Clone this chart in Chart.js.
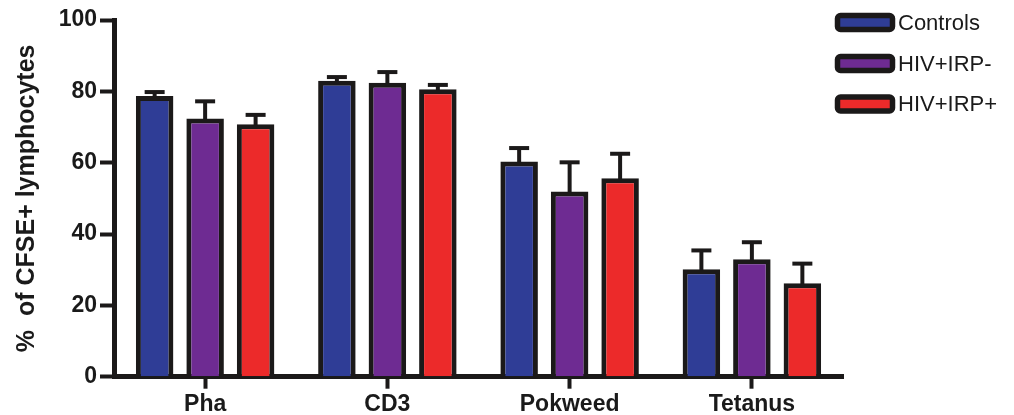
<!DOCTYPE html>
<html>
<head>
<meta charset="utf-8">
<script src="https://cdn.jsdelivr.net/npm/chart.js@4/dist/chart.umd.min.js"></script>
<style>
  html, body { margin: 0; padding: 0; background: #ffffff; }
  #wrap { width: 1014px; height: 415px; position: relative; }
</style>
</head>
<body>
<div id="wrap"><canvas id="chart" width="1014" height="415"></canvas></div>
<script>
// Stimulus categories
const categories = ['Pha', 'CD3', 'Pokweed', 'Tetanus'];

// Mean % of CFSE+ lymphocytes per group
const controls = [78.7, 83.0, 60.3, 30.1];
const hivIrpNeg = [72.4, 82.4, 51.9, 32.9];
const hivIrpPos = [70.8, 80.6, 55.6, 26.2];

// Upper error (SEM) per group
const controlsErr = [1.1, 1.0, 3.8, 5.3];
const hivIrpNegErr = [4.8, 3.0, 8.2, 4.8];
const hivIrpPosErr = [2.6, 1.2, 6.9, 5.5];

// Y axis tick values
const yTicks = [0, 20, 40, 60, 80, 100];

const seriesNames = ['Controls', 'HIV+IRP-', 'HIV+IRP+'];
const seriesColors = ['#2f3d96', '#6e2b92', '#ec2a2a'];
const edge = '#1b1919';
const FONT = '"Liberation Sans", Arial, Helvetica, sans-serif';

const values = [controls, hivIrpNeg, hivIrpPos];
const errors = [controlsErr, hivIrpNegErr, hivIrpPosErr];

const datasets = values.map((v, i) => ({
  label: seriesNames[i],
  data: v,
  errors: errors[i],
  backgroundColor: seriesColors[i],
  borderColor: edge,
  borderWidth: 5,
  borderSkipped: 'bottom',
  categoryPercentage: 0.831,
  barPercentage: 0.743
}));

// Upward error bars with caps
const errorBars = {
  id: 'errorBars',
  afterDatasetsDraw(chart) {
    const ctx = chart.ctx;
    const y = chart.scales.y;
    ctx.save();
    ctx.strokeStyle = edge;
    ctx.lineCap = 'butt';
    chart.data.datasets.forEach((ds, di) => {
      const meta = chart.getDatasetMeta(di);
      meta.data.forEach((bar, i) => {
        const top = y.getPixelForValue(ds.data[i]);
        const hi = y.getPixelForValue(ds.data[i] + ds.errors[i]);
        ctx.lineWidth = 4;
        ctx.beginPath();
        ctx.moveTo(bar.x, top + 1);
        ctx.lineTo(bar.x, hi);
        ctx.stroke();
        ctx.beginPath();
        ctx.moveTo(bar.x - 10, hi);
        ctx.lineTo(bar.x + 10, hi);
        ctx.stroke();
      });
    });
    ctx.restore();
  }
};

// Legend drawn at the top right with rounded swatches
const sideLegend = {
  id: 'sideLegend',
  afterDraw(chart) {
    const ctx = chart.ctx;
    const rows = [22.5, 63.5, 104];
    ctx.save();
    chart.data.datasets.forEach((ds, i) => {
      const cy = rows[i];
      ctx.beginPath();
      ctx.roundRect(837.5, cy - 7, 55, 14, 3);
      ctx.fillStyle = ds.backgroundColor;
      ctx.fill();
      ctx.lineWidth = 5.5;
      ctx.strokeStyle = edge;
      ctx.stroke();
      ctx.fillStyle = '#1a1a1a';
      ctx.font = '22px ' + FONT;
      ctx.textBaseline = 'middle';
      ctx.textAlign = 'left';
      ctx.fillText(ds.label, 898, cy + 1);
    });
    ctx.restore();
  }
};

new Chart(document.getElementById('chart'), {
  type: 'bar',
  data: { labels: categories, datasets },
  plugins: [errorBars, sideLegend],
  options: {
    responsive: false,
    animation: false,
    devicePixelRatio: 1,
    layout: { padding: { top: 20, right: 171, bottom: 0, left: 0 } },
    plugins: {
      legend: { display: false },
      tooltip: { enabled: false }
    },
    scales: {
      x: {
        grid: {
          display: true,
          drawOnChartArea: false,
          offset: false,
          drawTicks: true,
          tickLength: 12,
          tickWidth: 4,
          tickColor: edge
        },
        border: { display: true, color: edge, width: 5 },
        ticks: {
          color: '#1a1a1a',
          padding: 2,
          font: { family: FONT, size: 23, weight: 'bold' }
        },
        afterFit(scale) { scale.height = 38.3; }
      },
      y: {
        min: 0,
        max: 100,
        afterBuildTicks(scale) { scale.ticks = yTicks.map(v => ({ value: v })); },
        grid: {
          display: true,
          drawOnChartArea: false,
          drawTicks: true,
          tickLength: 14,
          tickWidth: 4,
          tickColor: edge
        },
        border: { display: true, color: edge, width: 5 },
        ticks: {
          color: '#1a1a1a',
          padding: 3,
          font: { family: FONT, size: 23, weight: 'bold' }
        },
        title: {
          display: true,
          text: '%  of CFSE+ lymphocytes',
          color: '#1a1a1a',
          padding: { top: 12, bottom: 0 },
          font: { family: FONT, size: 25, weight: 'bold' }
        },
        afterFit(scale) { scale.width = 114; }
      }
    }
  }
});
</script>
</body>
</html>
